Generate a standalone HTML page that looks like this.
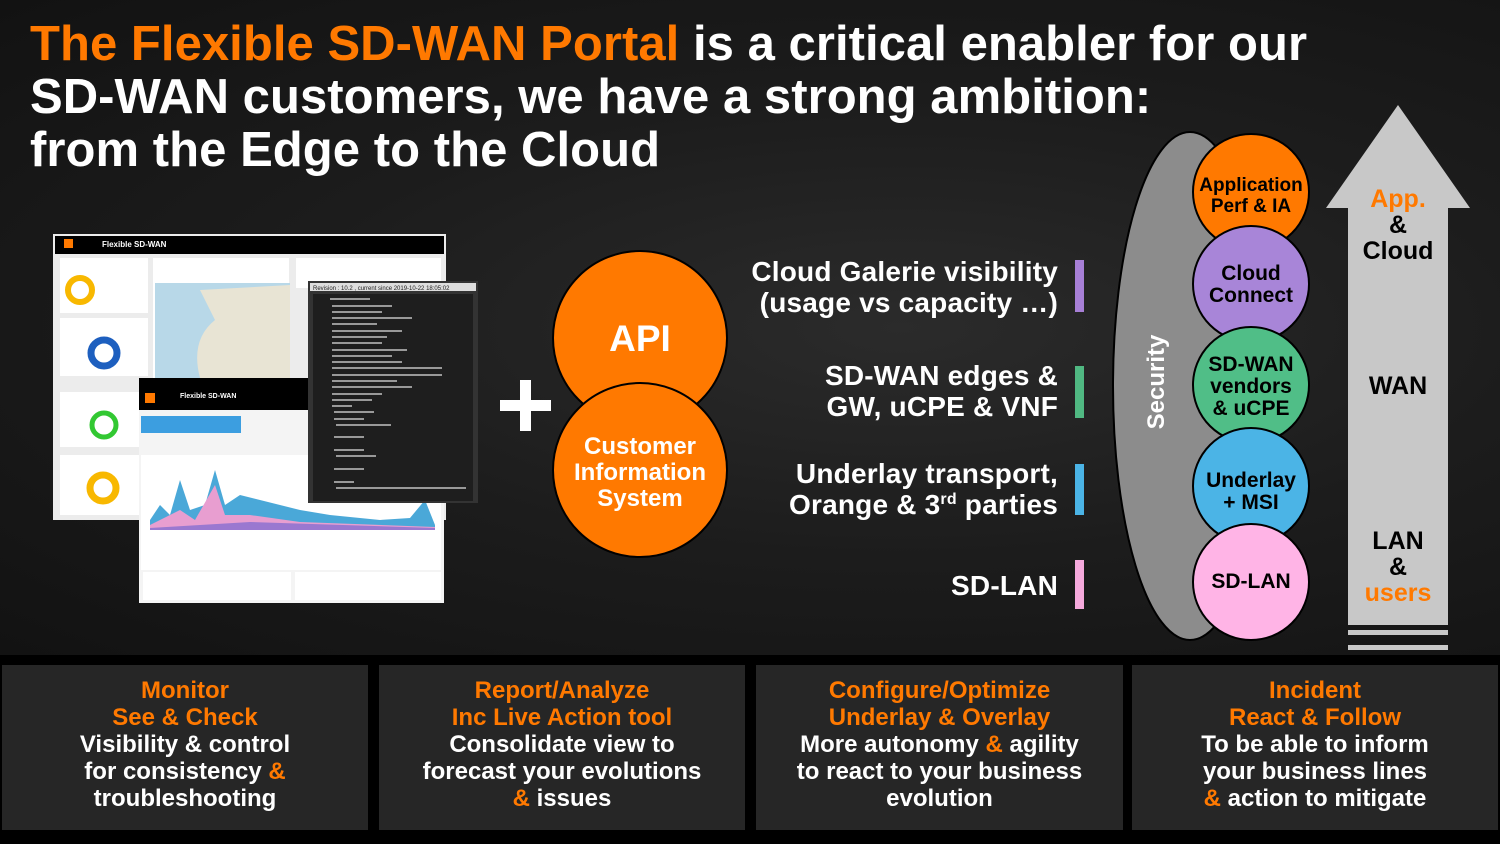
<!DOCTYPE html>
<html><head><meta charset="utf-8"><style>
*{margin:0;padding:0;box-sizing:border-box}
body{width:1500px;height:844px;overflow:hidden;background:#000;font-family:"Liberation Sans",Arial,sans-serif;position:relative}
.bg{position:absolute;left:0;top:0;width:1500px;height:655px;background:radial-gradient(ellipse at 60% 50%,#2b2b2b 0%,#1c1c1c 50%,#121212 100%)}
.t{position:absolute;font-weight:bold;color:#000}
.title{left:30px;top:18px;font-size:49px;letter-spacing:0.05px;line-height:53px;color:#fff;font-weight:bold;position:absolute}
.o{color:#ff7900}
.lbl{position:absolute;right:442px;text-align:right;font-size:28px;line-height:31px;color:#fff;font-weight:bold;letter-spacing:0.2px}
.bar{position:absolute;left:1075px;width:9px}
.box{position:absolute;top:665px;height:165px;background:#262626;text-align:center;color:#fff;font-size:24px;line-height:27px;font-weight:bold;padding-top:12px}
.box .o{color:#ff7900}
.c{position:absolute;text-align:center;font-weight:bold;color:#000;font-size:19px;line-height:21px}
sup{font-size:16px;line-height:0;vertical-align:10px}
</style></head><body>
<div class="bg"></div>
<div class="title"><span class="o">The Flexible SD-WAN Portal</span> is a critical enabler for our<br>SD-WAN customers, we have a strong ambition:<br>from the Edge to the Cloud</div>

<svg style="position:absolute;left:0;top:0" width="1500" height="660">
<rect x="53" y="234" width="393" height="286" fill="#ececec"/>
<rect x="55" y="236" width="389" height="18" fill="#000"/>
<rect x="64" y="239" width="9" height="9" fill="#ff7900"/>
<text x="102" y="247" font-size="8" fill="#fff" font-family="Liberation Sans" font-weight="bold">Flexible SD-WAN</text>
<rect x="60" y="258" width="88" height="55" fill="#fff"/>
<circle cx="80" cy="290" r="12" fill="none" stroke="#f8b800" stroke-width="6"/>
<rect x="60" y="318" width="88" height="58" fill="#fff"/>
<circle cx="104" cy="353" r="13" fill="none" stroke="#1d5fbf" stroke-width="7"/>
<rect x="60" y="392" width="88" height="55" fill="#fff"/>
<circle cx="104" cy="425" r="12" fill="none" stroke="#32c832" stroke-width="5"/>
<rect x="60" y="455" width="88" height="60" fill="#fff"/>
<circle cx="103" cy="488" r="13" fill="none" stroke="#f8b800" stroke-width="7"/>
<rect x="153" y="258" width="136" height="120" fill="#fff"/>
<rect x="155" y="283" width="135" height="95" fill="#b8d8e8"/>
<path d="M200 290 L290 285 L290 378 L200 378 Q190 340 215 320 Z" fill="#e8e4d4"/>
<rect x="296" y="258" width="145" height="30" fill="#fff"/>
<rect x="139" y="378" width="305" height="225" fill="#f4f4f4"/>
<rect x="139" y="378" width="170" height="32" fill="#000"/>
<rect x="145" y="393" width="10" height="10" fill="#ff7900"/>
<text x="180" y="398" font-size="7" fill="#fff" font-family="Liberation Sans" font-weight="bold">Flexible SD-WAN</text>
<rect x="141" y="416" width="100" height="17" fill="#3c9ee0"/>
<rect x="141" y="455" width="300" height="115" fill="#fff"/>
<path d="M150 520 L160 505 L170 515 L180 480 L190 510 L205 505 L215 470 L225 505 L240 495 L260 500 L280 505 L300 510 L330 515 L380 520 L410 518 L425 500 L435 525 L435 530 L150 530 Z" fill="#4aa8d8"/>
<path d="M150 525 L180 510 L195 520 L215 485 L225 515 L250 515 L300 522 L435 527 L435 530 L150 530 Z" fill="#e89ed0"/>
<path d="M150 528 L250 522 L435 528 L435 530 L150 530 Z" fill="#9a78d0"/>
<rect x="143" y="572" width="148" height="28" fill="#fff"/>
<rect x="295" y="572" width="146" height="28" fill="#fff"/>
<rect x="308" y="281" width="170" height="222" fill="#333"/>
<rect x="310" y="283" width="166" height="8" fill="#ddd"/>
<text x="313" y="290" font-size="6" fill="#222" font-family="Liberation Sans">Revision : 10.2 , current since 2019-10-22 18:05:02</text>
<rect x="313" y="294" width="160" height="207" fill="#1e1e1e"/>
<g fill="#999"><rect x="330" y="298" width="40" height="2"/><rect x="332" y="305" width="60" height="2"/><rect x="332" y="311" width="50" height="2"/><rect x="332" y="317" width="80" height="2"/><rect x="332" y="323" width="45" height="2"/><rect x="332" y="330" width="70" height="2"/><rect x="332" y="336" width="55" height="2"/><rect x="332" y="342" width="50" height="2"/><rect x="332" y="349" width="75" height="2"/><rect x="332" y="355" width="60" height="2"/><rect x="332" y="361" width="70" height="2"/><rect x="332" y="367" width="110" height="2"/><rect x="332" y="374" width="110" height="2"/><rect x="332" y="380" width="65" height="2"/><rect x="332" y="386" width="80" height="2"/><rect x="332" y="393" width="50" height="2"/><rect x="332" y="399" width="40" height="2"/><rect x="332" y="405" width="20" height="2"/><rect x="334" y="411" width="40" height="2"/><rect x="334" y="418" width="30" height="2"/><rect x="336" y="424" width="55" height="2"/><rect x="334" y="436" width="30" height="2"/><rect x="334" y="449" width="30" height="2"/><rect x="336" y="455" width="40" height="2"/><rect x="334" y="468" width="30" height="2"/><rect x="334" y="481" width="20" height="2"/><rect x="336" y="487" width="130" height="2"/></g>
<rect x="500" y="400" width="51" height="11" fill="#fff"/>
<rect x="520" y="380" width="11" height="51" fill="#fff"/>
<circle cx="640" cy="338" r="87" fill="#ff7900" stroke="#000" stroke-width="2"/>
<circle cx="640" cy="470" r="87" fill="#ff7900" stroke="#000" stroke-width="2"/>
<text x="640" y="351" text-anchor="middle" font-size="37" font-weight="bold" fill="#fff" font-family="Liberation Sans">API</text>
<text text-anchor="middle" font-size="24" font-weight="bold" fill="#fff" font-family="Liberation Sans"><tspan x="640" y="454">Customer</tspan><tspan x="640" y="480">Information</tspan><tspan x="640" y="506">System</tspan></text>
<ellipse cx="1190" cy="386" rx="77" ry="254" fill="#8c8c8c" stroke="#000" stroke-width="2"/>
<text transform="translate(1164,382) rotate(-90)" text-anchor="middle" font-size="24" font-weight="bold" fill="#fff" font-family="Liberation Sans">Security</text>
<circle cx="1251" cy="192" r="58" fill="#ff7900" stroke="#000" stroke-width="2"/>
<circle cx="1251" cy="284" r="58" fill="#a885d8" stroke="#000" stroke-width="2"/>
<circle cx="1251" cy="385" r="58" fill="#50be87" stroke="#000" stroke-width="2"/>
<circle cx="1251" cy="486" r="58" fill="#4bb4e6" stroke="#000" stroke-width="2"/>
<circle cx="1251" cy="582" r="58" fill="#ffb4e6" stroke="#000" stroke-width="2"/>
<path d="M1398 105 L1470 208 L1448 208 L1448 625 L1348 625 L1348 208 L1326 208 Z" fill="#c8c8c8"/>
<rect x="1348" y="630" width="100" height="5" fill="#c8c8c8"/>
<rect x="1348" y="645" width="100" height="5" fill="#c8c8c8"/>
</svg>

<div class="c" style="left:1193px;top:175px;width:116px">Application<br>Perf &amp; IA</div>
<div class="c" style="left:1193px;top:263px;width:116px;font-size:21px;line-height:22px">Cloud<br>Connect</div>
<div class="c" style="left:1193px;top:354px;width:116px;font-size:21px;line-height:22px">SD-WAN<br>vendors<br>&amp; uCPE</div>
<div class="c" style="left:1193px;top:470px;width:116px;font-size:21px;line-height:22px">Underlay<br>+ MSI</div>
<div class="c" style="left:1193px;top:571px;width:116px;font-size:21px;line-height:22px">SD-LAN</div>

<div class="t" style="left:1348px;top:186px;width:100px;text-align:center;font-size:25px;line-height:26px"><span class="o">App.</span><br>&amp;<br>Cloud</div>
<div class="t" style="left:1348px;top:372px;width:100px;text-align:center;font-size:25px">WAN</div>
<div class="t" style="left:1348px;top:528px;width:100px;text-align:center;font-size:25px;line-height:26px">LAN<br>&amp;<br><span class="o">users</span></div>

<div class="lbl" style="top:256px">Cloud Galerie visibility<br>(usage vs capacity …)</div>
<div class="lbl" style="top:360px">SD-WAN edges &amp;<br>GW, uCPE &amp; VNF</div>
<div class="lbl" style="top:458px">Underlay transport,<br>Orange &amp; 3<sup>rd</sup> parties</div>
<div class="lbl" style="top:570px">SD-LAN</div>
<div class="bar" style="top:260px;height:52px;background:#a77fd6"></div>
<div class="bar" style="top:366px;height:52px;background:#50b882"></div>
<div class="bar" style="top:464px;height:51px;background:#4bb4e6"></div>
<div class="bar" style="top:560px;height:49px;background:#f5a9dc"></div>

<div class="box" style="left:2px;width:366px"><span class="o">Monitor<br>See &amp; Check</span><br>Visibility &amp; control<br>for consistency <span class="o">&amp;</span><br>troubleshooting</div>
<div class="box" style="left:379px;width:366px"><span class="o">Report/Analyze<br>Inc Live Action tool</span><br>Consolidate view to<br>forecast your evolutions<br><span class="o">&amp;</span> issues</div>
<div class="box" style="left:756px;width:367px"><span class="o">Configure/Optimize<br>Underlay &amp; Overlay</span><br>More autonomy <span class="o">&amp;</span> agility<br>to react to your business<br>evolution</div>
<div class="box" style="left:1132px;width:366px"><span class="o">Incident<br>React &amp; Follow</span><br>To be able to inform<br>your business lines<br><span class="o">&amp;</span> action to mitigate</div>
</body></html>
